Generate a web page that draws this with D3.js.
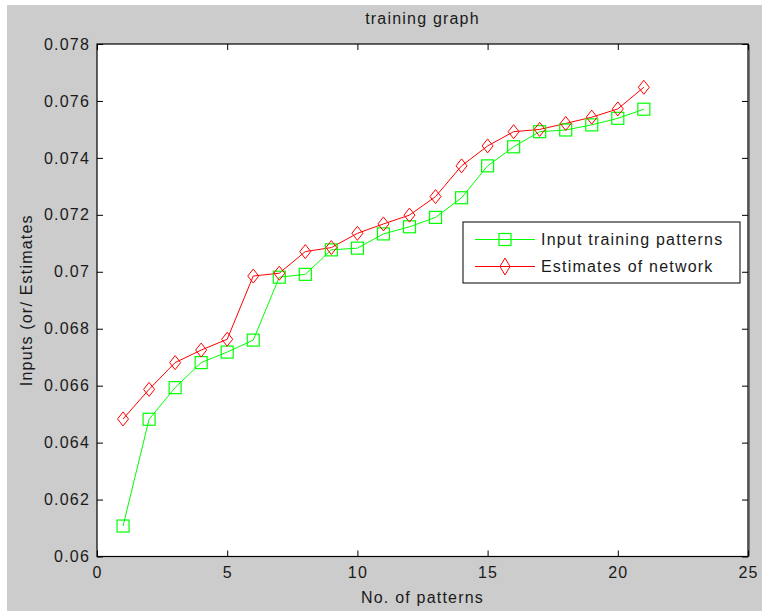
<!DOCTYPE html>
<html>
<head>
<meta charset="utf-8">
<script src="https://cdn.jsdelivr.net/npm/d3@7"></script>
<style>
  html, body { margin: 0; padding: 0; background: #ffffff; }
  svg { display: block; }
  text { font-family: "Liberation Sans", Arial, sans-serif; fill: #1a1a1a; }
</style>
</head>
<body>
<svg id="chart" width="762" height="611"></svg>
<script>
// ---- data ----
const patterns = [1,2,3,4,5,6,7,8,9,10,11,12,13,14,15,16,17,18,19,20,21];
const inputTraining = [0.06107,0.06482,0.06593,0.06681,0.06718,0.06760,0.06981,0.06991,0.07077,0.07083,0.07133,0.07158,0.07191,0.07260,0.07372,0.07439,0.07492,0.07498,0.07516,0.07539,0.07571];
const networkEstimates = [0.06483,0.06587,0.06681,0.06725,0.06763,0.06985,0.06995,0.07071,0.07085,0.07135,0.07168,0.07199,0.07264,0.07372,0.07442,0.07492,0.07500,0.07521,0.07543,0.07572,0.07648];
const xTicks = [0,5,10,15,20,25];
const yTicks = [0.06,0.062,0.064,0.066,0.068,0.07,0.072,0.074,0.076,0.078];
const yTickLabels = ["0.06","0.062","0.064","0.066","0.068","0.07","0.072","0.074","0.076","0.078"];
const seriesNames = ["Input training patterns","Estimates of network"];
const seriesColors = ["#00ff00","#ff0000"];

// ---- layout ----
const svg = d3.select("#chart");
const W = 762, H = 611;
const plot = {left: 97, top: 44, right: 748, bottom: 556.5};

svg.append("rect").attr("x", 7).attr("y", 5).attr("width", W - 7).attr("height", H - 5).attr("fill", "#cccccc");

const x = d3.scaleLinear().domain([0, 25]).range([plot.left, plot.right]);
const y = d3.scaleLinear().domain([0.06, 0.078]).range([plot.bottom, plot.top]);

// plot background
svg.append("rect").attr("x", plot.left).attr("y", plot.top)
  .attr("width", plot.right - plot.left).attr("height", plot.bottom - plot.top)
  .attr("fill", "#ffffff");

const tickLen = 6;
const fontStyle = sel => sel.style("font-size", "16px").style("letter-spacing", "1.2px");

// axes via d3
const xAxisB = svg.append("g").attr("transform", `translate(0,${plot.bottom})`)
  .call(d3.axisBottom(x).tickValues(xTicks).tickSizeInner(-tickLen).tickSizeOuter(0).tickPadding(10).tickFormat(d3.format("d")));
const xAxisT = svg.append("g").attr("transform", `translate(0,${plot.top})`)
  .call(d3.axisTop(x).tickValues(xTicks).tickSizeInner(-tickLen).tickSizeOuter(0).tickFormat(""));
const yAxisL = svg.append("g").attr("transform", `translate(${plot.left},0)`)
  .call(d3.axisLeft(y).tickValues(yTicks).tickSizeInner(-tickLen).tickSizeOuter(0).tickPadding(7)
    .tickFormat((d, i) => yTickLabels[i]));
const yAxisR = svg.append("g").attr("transform", `translate(${plot.right},0)`)
  .call(d3.axisRight(y).tickValues(yTicks).tickSizeInner(-tickLen).tickSizeOuter(0).tickFormat(""));

[xAxisB, xAxisT, yAxisL, yAxisR].forEach(g => {
  g.select(".domain").remove();
  g.selectAll(".tick line").attr("stroke", "#000").attr("stroke-width", 1);
  g.selectAll("text").attr("fill", "#1a1a1a").attr("font-family", null).attr("font-size", null).call(fontStyle);
});
xAxisB.selectAll("text").attr("dy", "0.71em");

// frame
svg.append("rect").attr("x", plot.left).attr("y", plot.top)
  .attr("width", plot.right - plot.left).attr("height", plot.bottom - plot.top)
  .attr("fill", "none").attr("stroke", "#000").attr("stroke-width", 1.2);
svg.append("line").attr("x1", plot.right + 1.5).attr("x2", plot.right + 1.5)
  .attr("y1", plot.top + 1).attr("y2", plot.bottom).attr("stroke", "#777").attr("stroke-width", 1);

// series
const data = [inputTraining, networkEstimates];
const line = d3.line().x((d, i) => x(patterns[i])).y(d => y(d));
data.forEach((vals, s) => {
  svg.append("path").datum(vals).attr("d", line)
    .attr("fill", "none").attr("stroke", seriesColors[s]).attr("stroke-width", 1);
});

function square(g, cx, cy, color) {
  g.append("rect").attr("x", cx - 6).attr("y", cy - 6).attr("width", 12).attr("height", 12)
    .attr("fill", "none").attr("stroke", color).attr("stroke-width", 1.2);
}
function diamond(g, cx, cy, color, w, h) {
  g.append("path").attr("d", `M${cx},${cy - h/2}L${cx + w/2},${cy}L${cx},${cy + h/2}L${cx - w/2},${cy}Z`)
    .attr("fill", "none").attr("stroke", color).attr("stroke-width", 1);
}
const mk = svg.append("g");
inputTraining.forEach((v, i) => square(mk, x(patterns[i]), y(v), seriesColors[0]));
networkEstimates.forEach((v, i) => diamond(mk, x(patterns[i]), y(v), seriesColors[1], 11, 14));

// legend
const lg = svg.append("g");
lg.append("rect").attr("x", 463).attr("y", 222).attr("width", 277).attr("height", 61)
  .attr("fill", "#fff").attr("stroke", "#000").attr("stroke-width", 1);
const rows = [239.5, 266.5];
rows.forEach((ry, s) => {
  lg.append("line").attr("x1", 475).attr("x2", 535).attr("y1", ry).attr("y2", ry)
    .attr("stroke", seriesColors[s]).attr("stroke-width", 1);
  if (s === 0) square(lg, 505, ry, seriesColors[0]);
  else diamond(lg, 505, ry, seriesColors[1], 10, 17);
  lg.append("text").attr("x", 541).attr("y", ry).attr("dy", "0.35em").text(seriesNames[s]).call(fontStyle);
});

// title and labels
const cx = (plot.left + plot.right) / 2;
svg.append("text").attr("x", cx).attr("y", 18).attr("dy", "0.35em").attr("text-anchor", "middle")
  .text("training graph").call(fontStyle);
svg.append("text").attr("x", cx).attr("y", 597).attr("dy", "0.35em").attr("text-anchor", "middle")
  .text("No. of patterns").call(fontStyle);
svg.append("text").attr("transform", `translate(26,${(plot.top + plot.bottom) / 2}) rotate(-90)`)
  .attr("dy", "0.35em").attr("text-anchor", "middle")
  .text("Inputs (or/ Estimates").call(fontStyle);
</script>
</body>
</html>
